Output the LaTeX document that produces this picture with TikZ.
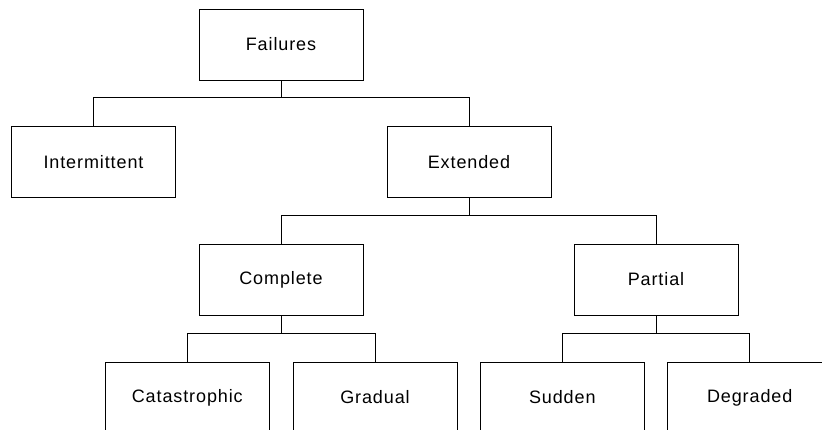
\documentclass[tikz,border=0pt]{standalone}
\usepackage{fontspec}
\setmainfont[LetterSpace=5]{Liberation Sans}

\begin{document}
\begin{tikzpicture}[x=1pt, y=-1pt,
    box/.style={draw, line width=0.9pt, minimum width=164pt, minimum height=71pt,
      inner sep=0pt, font=\fontsize{18}{20}\selectfont},
    link/.style={line width=0.9pt}]
  \useasboundingbox (0,0) rectangle (822,430);
  \clip (0,0) rectangle (822,430);
  % top
  \node[box] (failures) at (281,44.5) {Failures};
  % level 1
  \node[box] (intermittent) at (93.5,162) {Intermittent};
  \node[box] (extended) at (469,162) {Extended};
  % level 2
  \node[box] (complete) at (281,279.5) {Complete};
  \node[box] (partial) at (656,279.5) {Partial};
  % level 3 (cut off by the page edge)
  \node[box] (catastrophic) at (187.3,397.5) {Catastrophic};
  \node[box] (gradual) at (375,397.5) {Gradual};
  \node[box] (sudden) at (562.3,397.5) {Sudden};
  \node[box] (degraded) at (749.7,397.5) {Degraded};
  % connectors
  \foreach \c in {intermittent,extended}
    \draw[link] (failures.south) -- ++(0,17.5) -| (\c.north);
  \foreach \c in {complete,partial}
    \draw[link] (extended.south) -- ++(0,18) -| (\c.north);
  \foreach \c in {catastrophic,gradual}
    \draw[link] (complete.south) -- ++(0,18) -| (\c.north);
  \foreach \c in {sudden,degraded}
    \draw[link] (partial.south) -- ++(0,18) -| (\c.north);
\end{tikzpicture}
\end{document}
